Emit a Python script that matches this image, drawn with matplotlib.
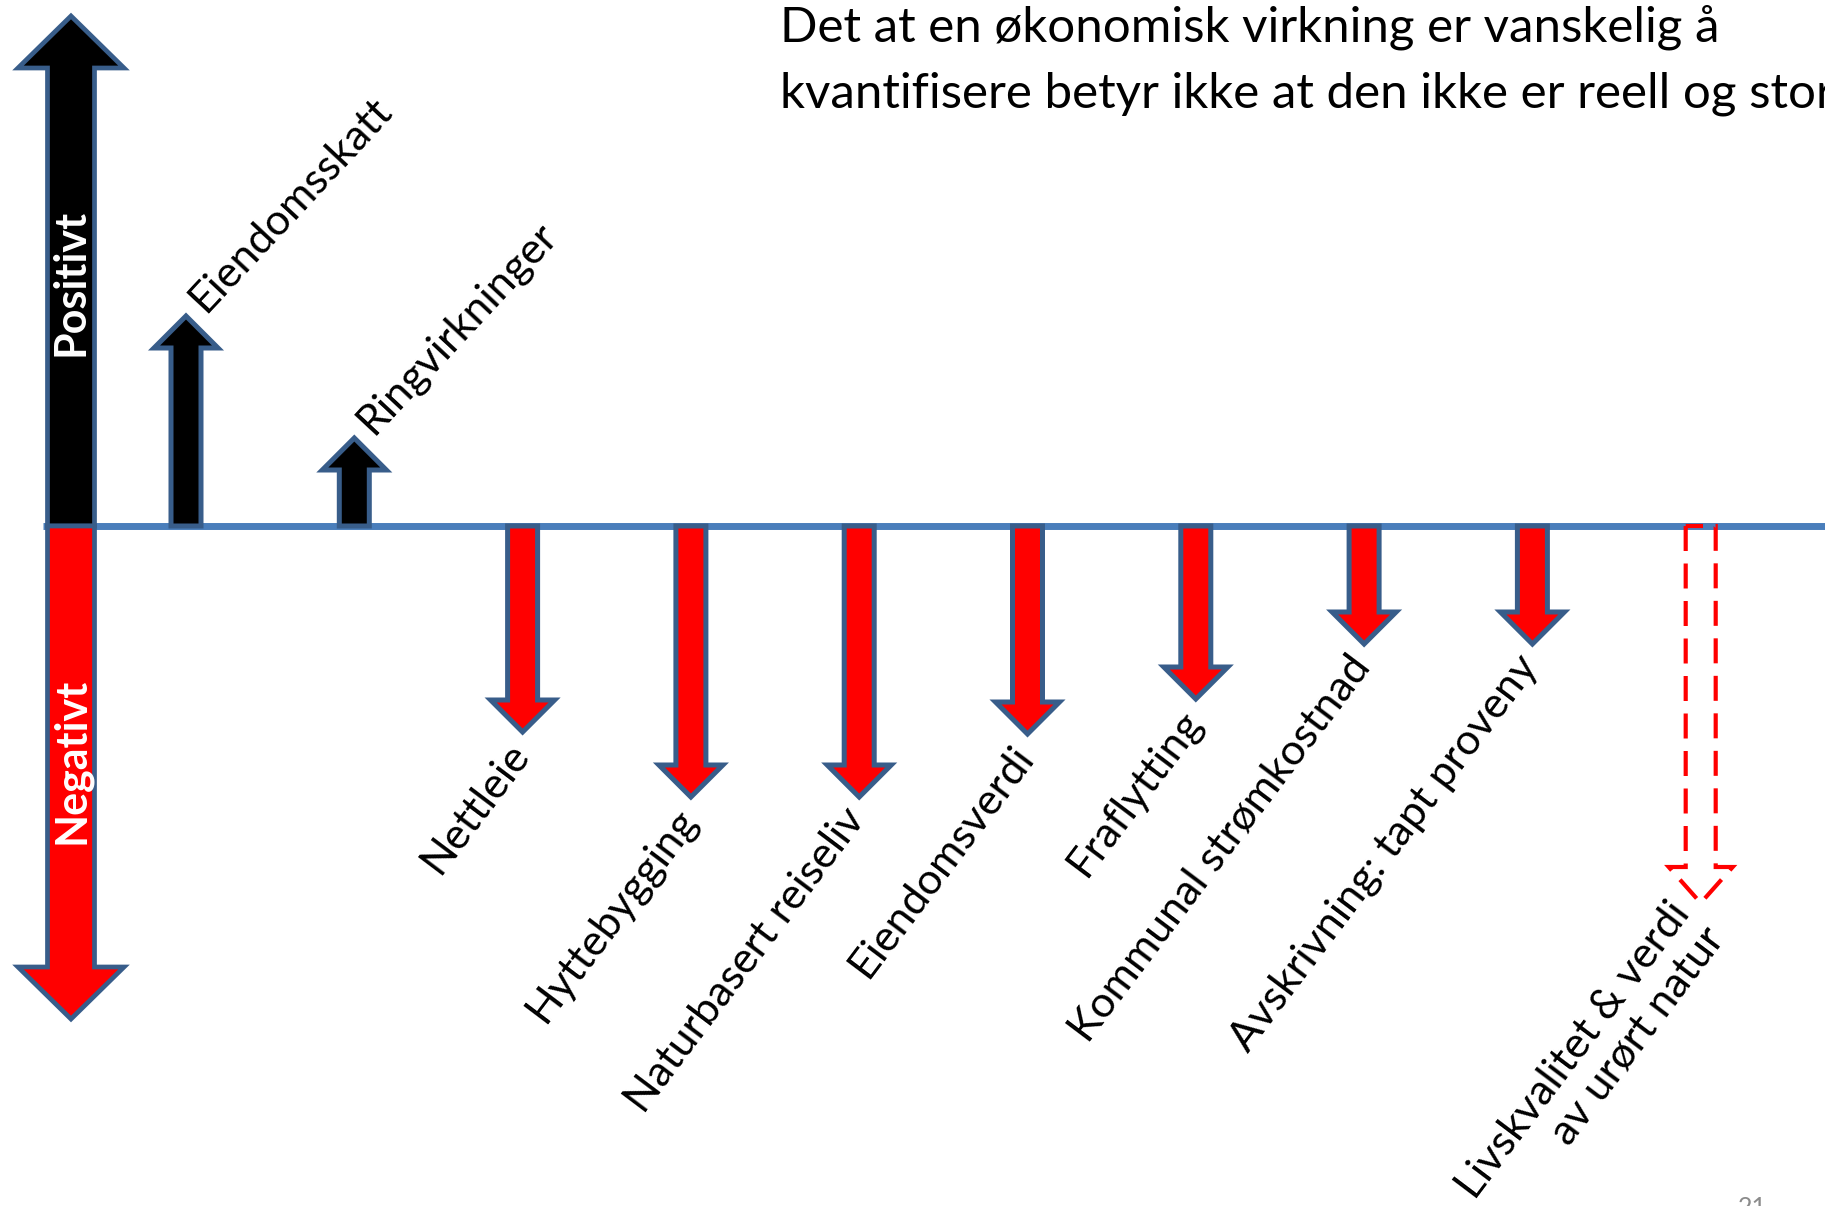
import numpy as np
import matplotlib
matplotlib.use("Agg")
import matplotlib.pyplot as plt
from matplotlib.patches import Polygon
from matplotlib.transforms import offset_copy

# -----------------------------------
# Data
# -----------------------------------

effects = [
    "Eiendomsskatt",
    "Ringvirkninger",
    "Nettleie",
    "Hyttebygging",
    "Naturbasert reiseliv",
    "Eiendomsverdi",
    "Fraflytting",
    "Kommunal strømkostnad",
    "Avskrivning: tapt proveny",
    "Livskvalitet & verdi\nav urørt natur",
]
impact = [210, 88, -206, -271, -271, -208, -173, -118, -118, -377]
uncertain = [False, False, False, False, False, False, False, False, False, True]

axis_labels = ["Positivt", "Negativt"]
axis_extent = [510, -493]

title_lines = [
    "Det at en økonomisk virkning er vanskelig å",
    "kvantifisere betyr ikke at den ikke er reell og stor",
]

# -----------------------------------
# Layout / style
# -----------------------------------

W, H = 1825, 1206
BASE = 526          # baseline height (px from top)
X0, STEP = 186, 168.3
FONT = "Lato"

BLACK = "#000000"
RED = "#FF0000"
EDGE = "#385D8A"
LINE = "#4A7EBB"


def px(v):
    # horizontal pixels -> index units
    return v / STEP


def arrow(ax, x, length, shaft, head, head_len, **kw):
    s = np.sign(length)
    sw, hw = px(shaft) / 2, px(head) / 2
    yb = length - s * head_len
    pts = [(x - sw, 0), (x - sw, yb), (x - hw, yb), (x, length),
           (x + hw, yb), (x + sw, yb), (x + sw, 0)]
    p = Polygon(pts, closed=True, joinstyle="miter", **kw)
    ax.add_patch(p)
    return p


fig = plt.figure(figsize=(W / 100, H / 100), dpi=100)
ax = fig.add_axes([0, 0, 1, 1])
ax.set_xlim(-X0 / STEP, (W - X0) / STEP)
ax.set_ylim(-(H - BASE), BASE)
ax.axis("off")

# baseline
ax.plot([px(43 - X0), px(W - X0) + 1], [0, 0], color=LINE, lw=5, zorder=1,
        solid_capstyle="butt")

# big positive / negative axis arrow
xa = px(71 - X0)
arrow(ax, xa, axis_extent[0], 47, 106, 52, facecolor=BLACK, edgecolor=EDGE,
      lw=3.4, zorder=2)
arrow(ax, xa, axis_extent[1], 47, 106, 52, facecolor=RED, edgecolor=EDGE,
      lw=3.4, zorder=2)
ax.text(xa, axis_extent[0] * 0.478, axis_labels[0], rotation=90, color="white",
        fontsize=31, fontweight="bold", family=FONT, ha="center", va="center",
        zorder=3)
ax.text(xa, axis_extent[1] * 0.477, axis_labels[1], rotation=90, color="white",
        fontsize=31, fontweight="bold", family=FONT, ha="center", va="center",
        zorder=3)

# effect arrows + labels
for i, (name, val, dashed) in enumerate(zip(effects, impact, uncertain)):
    if dashed:
        arrow(ax, i, val, 30, 64, 36, fill=False, edgecolor=RED, lw=3,
              linestyle=(0, (6, 3)), zorder=2)
    else:
        arrow(ax, i, val, 30, 64, 32, facecolor=BLACK if val > 0 else RED,
              edgecolor=EDGE, lw=3.6, zorder=2)

    if val > 0:
        tr = offset_copy(ax.transData, fig=fig, x=10, y=10, units="dots")
        ax.text(i, val, name, rotation=47, rotation_mode="anchor", ha="left",
                va="center", fontsize=31, family=FONT, transform=tr)
    else:
        tr = offset_copy(ax.transData, fig=fig, x=-2, y=-16, units="dots")
        ax.text(i, val, name, rotation=53, rotation_mode="anchor", ha="right",
                va="center", fontsize=31, family=FONT, transform=tr,
                multialignment="right", linespacing=1.15)

# title text
fig.text(780 / W, 1 - 42 / H, title_lines[0], fontsize=35.5, family=FONT,
         ha="left", va="baseline")
fig.text(780 / W, 1 - 107 / H, title_lines[1], fontsize=35.5, family=FONT,
         ha="left", va="baseline")

# page number (cut by slide edge)
fig.text(1738 / W, 1 - 1196 / H, "21", fontsize=18, family=FONT,
         color="#8B8B8B", ha="left", va="top")

fig.savefig("out.png", dpi=100)
